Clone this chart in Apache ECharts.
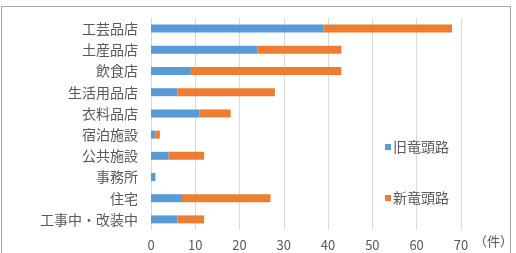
<!DOCTYPE html>
<html>
<head>
<meta charset="utf-8">
<script src="https://cdn.jsdelivr.net/npm/echarts@6/dist/echarts.min.js"></script>
<style>
  html, body { margin: 0; padding: 0; background: #fff; }
  #chart { width: 516px; height: 253px; }
</style>
</head>
<body>
<div id="chart"></div>
<script>
// カテゴリ（上から順）
const categories = ['工芸品店', '土産品店', '飲食店', '生活用品店', '衣料品店', '宿泊施設', '公共施設', '事務所', '住宅', '工事中・改装中']
const oldRoad = [39, 24, 9, 6, 11, 1, 4, 1, 7, 6]
const newRoad = [29, 19, 34, 22, 7, 1, 8, 0, 20, 6]
const seriesNames = ['旧竜頭路', '新竜頭路']
const xTicks = [0, 70, 10]  // min, max, interval

const font = '"Noto Sans CJK JP", "Noto Sans", sans-serif'
const textColor = '#595959'

const chart = echarts.init(document.getElementById('chart'))

chart.setOption({
  animation: false,
  textStyle: { fontFamily: font },
  graphic: [
    {
      type: 'rect',
      shape: { x: 1.5, y: 6.5, width: 509, height: 260 },
      style: { fill: 'none', stroke: '#a6a6a6', lineWidth: 1 },
      z: -1
    }
  ],
  legend: {
    orient: 'vertical',
    left: 380,
    top: 135,
    itemGap: 37,
    itemWidth: 6,
    itemHeight: 6,
    icon: 'rect',
    data: seriesNames,
    textStyle: { fontFamily: font, fontSize: 14, color: textColor, padding: [0, 0, 0, -3] }
  },
  grid: {
    left: 151,
    right: 54,
    top: 18,
    bottom: 23,
    containLabel: false
  },
  xAxis: {
    type: 'value',
    min: xTicks[0],
    max: xTicks[1],
    interval: xTicks[2],
    name: '（件）',
    nameLocation: 'end',
    nameGap: 2,
    nameTextStyle: { fontFamily: font, fontSize: 13, color: textColor, verticalAlign: 'top', padding: [5, 0, 0, 0] },
    axisLine: { show: false },
    axisTick: { show: false },
    axisLabel: { fontFamily: font, fontSize: 13, color: textColor, margin: 9 },
    splitLine: { show: true, lineStyle: { color: '#d9d9d9', width: 1 } }
  },
  yAxis: {
    type: 'category',
    data: categories,
    inverse: true,
    axisLine: { show: true, lineStyle: { color: '#d9d9d9' } },
    axisTick: { show: false },
    axisLabel: { fontFamily: font, fontSize: 14, color: textColor, margin: 13 }
  },
  series: [
    {
      name: seriesNames[0],
      type: 'bar',
      stack: 'total',
      data: oldRoad,
      barWidth: 8,
      itemStyle: { color: '#5b9bd5' }
    },
    {
      name: seriesNames[1],
      type: 'bar',
      stack: 'total',
      data: newRoad,
      barWidth: 8,
      itemStyle: { color: '#ed7d31' }
    }
  ]
})
</script>
</body>
</html>
